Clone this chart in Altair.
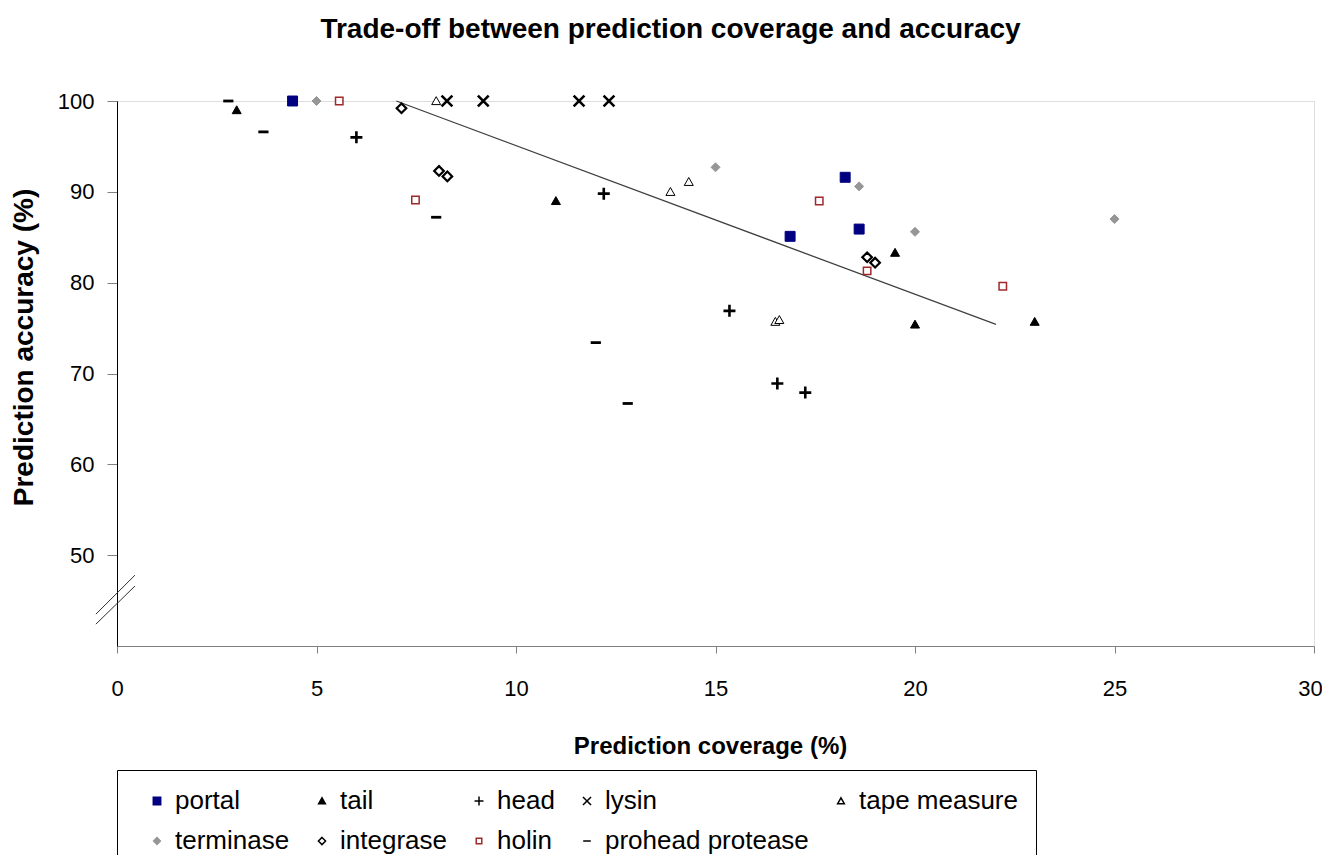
import altair as alt
import pandas as pd

# ---------------- data ----------------
series = ["portal", "tail", "head", "lysin", "tape measure",
          "terminase", "integrase", "holin", "prohead protease"]

portal_x = [4.4, 18.25, 16.87, 18.6]
portal_y = [100.0, 91.6, 85.1, 85.9]

tail_x = [3.0, 11.0, 19.5, 20.0, 23.0]
tail_y = [99.0, 89.0, 83.3, 75.4, 75.7]

head_x = [6.0, 12.2, 15.35, 16.55, 17.25]
head_y = [96.0, 89.8, 76.9, 68.9, 67.9]

lysin_x = [8.27, 9.18, 11.58, 12.33]
lysin_y = [100.0, 100.0, 100.0, 100.0]

tape_x = [8.0, 13.87, 14.33, 16.5, 16.6]
tape_y = [100.0, 90.0, 91.1, 75.7, 75.9]

terminase_x = [5.0, 15.0, 18.6, 20.0, 25.0]
terminase_y = [100.0, 92.7, 90.6, 85.6, 87.0]

integrase_x = [7.13, 8.07, 8.28, 18.8, 19.0]
integrase_y = [99.2, 92.3, 91.7, 82.8, 82.2]

holin_x = [5.57, 7.48, 17.6, 18.8, 22.2]
holin_y = [100.0, 89.1, 89.0, 81.3, 79.6]

prohead_x = [2.79, 3.67, 8.0, 12.0, 12.8]
prohead_y = [100.0, 96.6, 87.2, 73.4, 66.7]

trend_x = [7.0, 22.03]
trend_y = [100.0, 75.4]

# axis-break marks (in data units)
break_x1 = [-0.53, -0.53]
break_x2 = [0.45, 0.45]
break_y1 = [43.5, 42.4]
break_y2 = [47.8, 46.6]

x_ticks = [0, 5, 10, 15, 20, 25, 30]
y_ticks = [50, 60, 70, 80, 90, 100]

# legend lays entries out column by column: this order gives the reference's rows
legend_order = ["portal", "terminase", "tail", "integrase", "head", "holin",
                "lysin", "prohead protease", "tape measure"]

# ---------------- styles ----------------
style = {
    #  name:            (shape path,                                fill,          stroke,    width)
    "portal":           ("M-0.83,-0.83H0.83V0.83H-0.83Z",          "#000080",     "#000080", 1.0),
    "tail":             ("M0,-0.72L0.75,0.6L-0.75,0.6Z",           "#000000",     "#000000", 1.0),
    "head":             ("M-1,0H1M0,-1V1",                          "transparent", "#000000", 2.6),
    "lysin":            ("M-0.9,-0.9L0.9,0.9M0.9,-0.9L-0.9,0.9",    "transparent", "#000000", 2.6),
    "tape measure":     ("M0,-0.72L0.75,0.6L-0.75,0.6Z",           "#ffffff",     "#000000", 1.0),
    "terminase":        ("M0,-0.75L0.75,0L0,0.75L-0.75,0Z",        "#969696",     "#969696", 1.0),
    "integrase":        ("M0,-0.8L0.8,0L0,0.8L-0.8,0Z",            "#ffffff",     "#000000", 2.2),
    "holin":            ("M-0.62,-0.62H0.62V0.62H-0.62Z",          "#ffffff",     "#a0282a", 1.5),
    "prohead protease": ("M-0.85,0H0.85",                           "transparent", "#000000", 2.8),
}

names, xs, ys, sws = [], [], [], []
for name, sx, sy in zip(series,
                        [portal_x, tail_x, head_x, lysin_x, tape_x, terminase_x, integrase_x, holin_x, prohead_x],
                        [portal_y, tail_y, head_y, lysin_y, tape_y, terminase_y, integrase_y, holin_y, prohead_y]):
    for a, b in zip(sx, sy):
        names.append(name)
        xs.append(a)
        ys.append(b)
        sws.append(style[name][3])
df = pd.DataFrame({"series": names, "x": xs, "y": ys, "sw": sws})
df_trend = pd.DataFrame({"x": trend_x, "y": trend_y})
df_break = pd.DataFrame({"x": break_x1, "x2": break_x2, "y": break_y1, "y2": break_y2})

FONT = "Liberation Sans"

x_scale = alt.Scale(domain=[0, 30], nice=False, zero=False)
y_scale = alt.Scale(domain=[40, 100], nice=False, zero=False)

x_axis = alt.Axis(values=x_ticks, grid=False, domainColor="#808080", tickColor="#808080",
                  tickSize=7, labelPadding=25, labelFont=FONT, labelFontSize=22,
                  labelColor="black", labelFlush=False, labelOverlap=False, format="d",
                  labelOffset={"condition": {"test": "datum.value == 30", "value": -4}, "value": 0},
                  title="Prediction coverage (%)", titleFont=FONT, titleFontSize=24,
                  titleFontWeight="bold", titleColor="black", titleBaseline="alphabetic",
                  titleY=107, titleX=593)
y_axis = alt.Axis(values=y_ticks, grid=False, domainColor="#000000", tickColor="#808080",
                  tickSize=10, labelPadding=13, labelFont=FONT, labelFontSize=22,
                  labelColor="black", labelFlush=False, labelOverlap=False, format="d",
                  title="Prediction accuracy (%)", titleFont=FONT, titleFontSize=28,
                  titleFontWeight="bold", titleColor="black", titleBaseline="alphabetic",
                  titleX=-85, titleY=246)

X = alt.X("x:Q", scale=x_scale, axis=x_axis)
Y = alt.Y("y:Q", scale=y_scale, axis=y_axis)

leg = alt.Legend(title=None, orient="none", legendX=0, legendY=669, columns=5,
                 gridAlign="each", columnPadding=10, rowPadding=14, padding=18,
                 strokeColor="black", fillColor="white", symbolSize=80,
                 symbolOffset=9, labelOffset=5, symbolStrokeWidth=1.5,
                 labelFont=FONT, labelFontSize=26, labelColor="black", labelLimit=400)

dom = legend_order
points = alt.Chart(df).mark_point(opacity=1, size=144).encode(
    x=X, y=Y,
    shape=alt.Shape("series:N", scale=alt.Scale(domain=dom, range=[style[n][0] for n in dom]), legend=leg),
    fill=alt.Fill("series:N", scale=alt.Scale(domain=dom, range=[style[n][1] for n in dom]), legend=leg),
    stroke=alt.Stroke("series:N", scale=alt.Scale(domain=dom, range=[style[n][2] for n in dom]), legend=leg),
    strokeWidth=alt.StrokeWidth("sw:Q", scale=None, legend=None),
)

trend = alt.Chart(df_trend).mark_line(color="#404040", strokeWidth=1.3).encode(x=X, y=Y)

breaks = alt.Chart(df_break).mark_rule(color="#303030", strokeWidth=1).encode(
    x=X, y=Y, x2="x2:Q", y2="y2:Q")

chart = alt.layer(trend, points, breaks).properties(
    width=1197, height=545,
    autosize=alt.AutoSizeParams(type="none"),
    padding={"left": 109, "top": 93, "right": 8, "bottom": 209},
    title=alt.Title("Trade-off between prediction coverage and accuracy", font=FONT,
                    fontSize=28, fontWeight="bold", color="black", anchor="middle",
                    dx=-45, offset=46),
).configure_view(stroke="#a6a6a6", strokeWidth=1).configure(background="white")

chart.save("out.html", embed_options={"renderer": "svg", "actions": False})
